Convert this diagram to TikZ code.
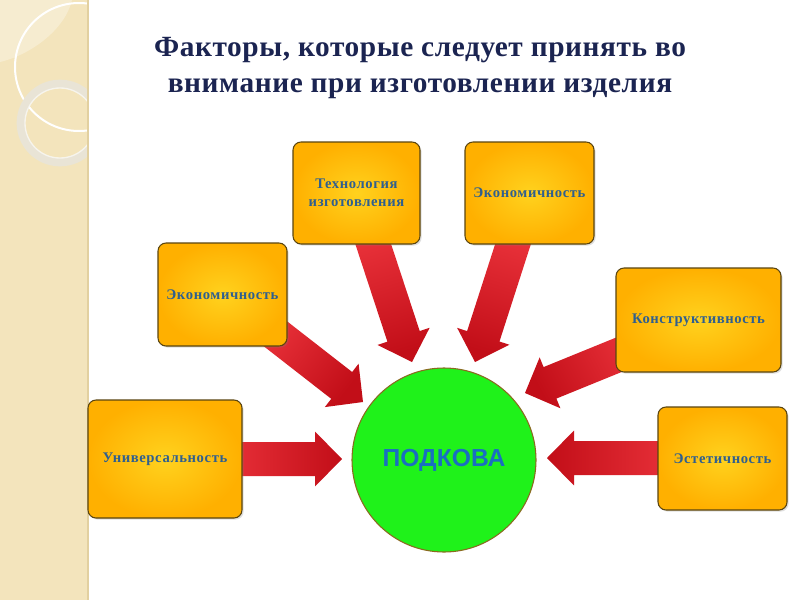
\documentclass[tikz,border=0pt]{standalone}
\usepackage{fontspec}
\setmainfont{Liberation Serif}
\newfontfamily\boxfont{Liberation Serif}[LetterSpace=4]
\newfontfamily\titlefont{Liberation Serif}[LetterSpace=2]
\newfontfamily\circfont{Liberation Sans}
\usetikzlibrary{calc,shadows}
\definecolor{titleblue}{HTML}{1B2451}
\definecolor{boxtext}{HTML}{2F5F8F}
\definecolor{boxin}{HTML}{FFD21E}
\definecolor{boxout}{HTML}{FFB000}
\definecolor{boxline}{HTML}{5A4510}
\definecolor{redlight}{HTML}{F03840}
\definecolor{reddark}{HTML}{C20E18}
\definecolor{circgreen}{HTML}{1FF21A}
\definecolor{circline}{HTML}{8A6A20}
\definecolor{circtext}{HTML}{1A6FC0}
\definecolor{strip}{HTML}{F3E4BC}
\definecolor{stripline}{HTML}{E2D0A0}
\definecolor{ringcol}{HTML}{E9E4D6}
\tikzset{
  factorbox/.style={rectangle, rounded corners=6pt, draw=boxline, line width=0.8pt,
    inner color=boxin, outer color=boxout, align=center,
    font=\boxfont\bfseries\fontsize{11}{13.5}\selectfont, text=boxtext,
    drop shadow={opacity=0.25, shadow xshift=1.2pt, shadow yshift=-1.2pt}},
  arrowshade/.style={top color=redlight, bottom color=reddark},
}
\newcommand\blockarr[3]{%
  \path (#1) coordinate (S) (#2) coordinate (T) ($(T)!20.25pt!(S)$) coordinate (B);
  \shade[arrowshade, shading angle=#3]
    ($(S)!12.75pt!90:(T)$) -- ($(B)!12.75pt!90:(T)$) -- ($(B)!20.6pt!90:(T)$) --
    (T) -- ($(B)!20.6pt!-90:(T)$) -- ($(B)!12.75pt!-90:(T)$) -- ($(S)!12.75pt!-90:(T)$) -- cycle;
}
\begin{document}
\begin{tikzpicture}[x=0.75pt,y=-0.75pt]
\useasboundingbox (0,0) rectangle (800,600);
\fill[white] (0,0) rectangle (800,600);
% left decorative strip
\fill[strip] (0,0) rectangle (88,600);
\begin{scope}
  \clip (0,0) rectangle (88,600);
  \fill[white, opacity=0.3] (0,62) .. controls (30,55) and (65,30) .. (72,0) -- (0,0) -- cycle;
  \draw[white, line width=1.5pt] (79,67) circle (64);
  \draw[ringcol, line width=6.5pt] (60,123) circle (39);
  \draw[white, opacity=0.6, line width=1pt] (60,123) circle (35);
\end{scope}
\draw[stripline, line width=1pt] (88,0) -- (88,600);
% title
\node[font=\titlefont\bfseries\fontsize{22}{26.5}\selectfont, text=titleblue, align=center] (title) at (420,68)
  {Факторы, которые следует принять во\\внимание при изготовлении изделия};
% tip coordinates
\coordinate (tUniv) at (342,459);
\coordinate (tEconL) at (363,402);
\coordinate (tTech) at (412,362);
\coordinate (tEconR) at (475,362);
\coordinate (tKonstr) at (525,393);
\coordinate (tEstet) at (547,458);
% start coordinates (hidden under boxes)
\coordinate (sUniv) at (200,459);
\coordinate (sEconL) at (250,314);
\coordinate (sTech) at (362,210);
\coordinate (sEconR) at (524,210);
\coordinate (sKonstr) at (660,338);
\coordinate (sEstet) at (700,458);
% arrows
\blockarr{sUniv}{tUniv}{90}
\blockarr{sEconL}{tEconL}{52}
\blockarr{sTech}{tTech}{17.4}
\blockarr{sEconR}{tEconR}{-17.4}
\blockarr{sKonstr}{tKonstr}{-61.9}
\blockarr{sEstet}{tEstet}{270}
% boxes
\node[factorbox, minimum width=115.5pt, minimum height=88.5pt] (univ) at (165,459) {Универсальность};
\node[factorbox, minimum width=96.75pt, minimum height=77.25pt] (econL) at (222.5,294.5) {Экономичность};
\node[factorbox, minimum width=95.25pt, minimum height=76.5pt] (tech) at (356.5,193) {Технология\\изготовления};
\node[factorbox, minimum width=96.75pt, minimum height=76.5pt] (econR) at (529.5,193) {Экономичность};
\node[factorbox, minimum width=123.75pt, minimum height=78pt] (konstr) at (698.5,320) {Конструктивность};
\node[factorbox, minimum width=96.75pt, minimum height=77.25pt] (estet) at (722.5,458.5) {Эстетичность};
% circle
\node[circle, minimum size=138pt, fill=circgreen, draw=circline, line width=0.8pt,
  font=\circfont\bfseries\fontsize{18.5}{22}\selectfont, text=circtext] (podkova) at (444,460) {ПОДКОВА};
\end{tikzpicture}
\end{document}
